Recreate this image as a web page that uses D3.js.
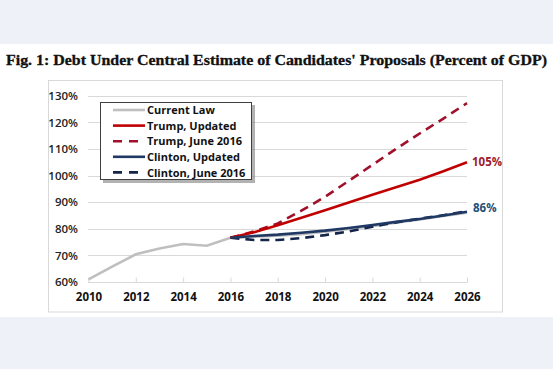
<!DOCTYPE html>
<html><head><meta charset="utf-8">
<script src="https://cdn.jsdelivr.net/npm/d3@7"></script>
<style>
html,body{margin:0;padding:0;background:#eef1f8;}
svg{display:block;}
</style></head>
<body>
<svg id="c" width="553" height="369"></svg>
<script>
const years = [2010,2011,2012,2013,2014,2015,2016,2017,2018,2019,2020,2021,2022,2023,2024,2025,2026];
const currentLaw = [61.0,65.8,70.4,72.6,74.3,73.6,76.6,77.0,77.4,78.0,78.9,79.9,81.0,82.3,83.5,84.8,86.0];
const projYears = [2016,2017,2018,2019,2020,2021,2022,2023,2024,2025,2026];
const trumpUpdated = [76.6,78.7,81.3,84.1,87.0,89.9,92.8,95.6,98.4,101.6,105.0];
const trumpJune = [76.6,79.0,82.0,86.8,92.0,98.0,104.0,110.0,115.8,121.4,127.2];
const clintonUpdated = [76.6,77.3,77.8,78.5,79.3,80.3,81.4,82.6,83.7,85.0,86.4];
const clintonJune = [76.6,75.8,75.8,76.5,77.6,79.0,80.8,82.4,83.8,85.1,86.6];
const yTicks = [60,70,80,90,100,110,120,130];
const xTicks = [2010,2012,2014,2016,2018,2020,2022,2024,2026];
const seriesNames = ["Current Law","Trump, Updated","Trump, June 2016","Clinton, Updated","Clinton, June 2016"];
const endLabels = ["105%","86%"];

const svg = d3.select("#c");
const font = "'Open Sans', sans-serif";
// white panel
svg.append("rect").attr("x",0).attr("y",44).attr("width",553).attr("height",273).attr("fill","#ffffff");
// title
svg.append("text").attr("x",6).attr("y",65).attr("textLength",541).attr("lengthAdjust","spacingAndGlyphs")
  .attr("font-family","'Liberation Serif', serif").attr("font-weight","bold").attr("font-size",14.5).attr("fill","#111")
  .attr("stroke","#111").attr("stroke-width",0.3)
  .text("Fig. 1: Debt Under Central Estimate of Candidates' Proposals (Percent of GDP)");
// chart box
svg.append("rect").attr("x",48.5).attr("y",80.5).attr("width",454).attr("height",231.5)
  .attr("fill","#fff").attr("stroke","#d9d9d9");

const x = d3.scaleLinear().domain([2010,2026]).range([88.5,467]);
const y = d3.scaleLinear().domain([60,130]).range([282,95.7]);

// gridlines
svg.append("g").selectAll("line").data(yTicks.slice(1)).join("line")
  .attr("x1",88).attr("x2",467).attr("y1",d=>Math.round(y(d))+0.5).attr("y2",d=>Math.round(y(d))+0.5)
  .attr("stroke","#d9d9d9").attr("stroke-width",1);

// y axis labels
const yAxis = d3.axisLeft(y).tickValues(yTicks).tickFormat(d=>d+"%").tickSize(0).tickPadding(0);
const gy = svg.append("g").attr("transform","translate(78,0)").call(yAxis);
gy.select(".domain").remove();
gy.selectAll("text").attr("font-family",font).attr("font-weight",600).attr("font-size",11.5).attr("fill","#222");

// x axis
const xAxis = d3.axisBottom(x).tickValues(xTicks).tickFormat(d3.format("d")).tickSize(-5).tickPadding(10);
const gx = svg.append("g").attr("transform","translate(0,282.5)").call(xAxis);
gx.select(".domain").attr("stroke","#d9d9d9").attr("d","M88,0H467");
gx.selectAll(".tick line").attr("stroke","#d9d9d9");
gx.selectAll("text").attr("font-family",font).attr("font-weight",700).attr("font-size",11.5).attr("fill","#111");

const line = d3.line().x(d=>x(d[0])).y(d=>y(d[1]));
const zipY = (ys, vs) => ys.map((yr,i)=>[yr, vs[i]]);

const series = [
  {name:seriesNames[0], data:zipY(years,currentLaw), color:"#bfbfbf", dash:null},
  {name:seriesNames[1], data:zipY(projYears,trumpUpdated), color:"#c00000", dash:null},
  {name:seriesNames[2], data:zipY(projYears,trumpJune), color:"#a0102a", dash:"9,6"},
  {name:seriesNames[3], data:zipY(projYears,clintonUpdated), color:"#1f3864", dash:null},
  {name:seriesNames[4], data:zipY(projYears,clintonJune), color:"#14254a", dash:"9,6"}
];
const drawOrder = [0,2,4,1,3];
svg.append("g").selectAll("path").data(drawOrder.map(i=>series[i])).join("path")
  .attr("d",d=>line(d.data)).attr("fill","none").attr("stroke",d=>d.color)
  .attr("stroke-width",2.6).attr("stroke-dasharray",d=>d.dash);

// end labels
svg.append("text").attr("x",472).attr("y",y(105)+4).attr("font-family",font).attr("font-weight",700)
  .attr("font-size",11.5).attr("fill","#9b1b30").text(endLabels[0]);
svg.append("text").attr("x",473).attr("y",y(86.4)+0).attr("font-family",font).attr("font-weight",700)
  .attr("font-size",11.5).attr("fill","#1f4e79").text(endLabels[1]);

// legend
const lg = svg.append("g");
lg.append("rect").attr("x",103).attr("y",105).attr("width",152).attr("height",78).attr("fill","#7f7f7f").attr("opacity",0.6);
lg.append("rect").attr("x",100.5).attr("y",102.5).attr("width",151).attr("height",77).attr("fill","#fff").attr("stroke","#404040");
const li = lg.selectAll("g.item").data(series).join("g").attr("class","item")
  .attr("transform",(d,i)=>`translate(0,${110+i*15.6})`);
li.append("line").attr("x1",113).attr("x2",145).attr("y1",0).attr("y2",0).attr("stroke",d=>d.color)
  .attr("stroke-width",2.6).attr("stroke-dasharray",d=>d.dash?"9,7":null);
li.append("text").attr("x",147).attr("y",4.2).attr("font-family",font).attr("font-weight",700)
  .attr("font-size",11).attr("fill","#111").text(d=>d.name);
</script>
</body></html>
